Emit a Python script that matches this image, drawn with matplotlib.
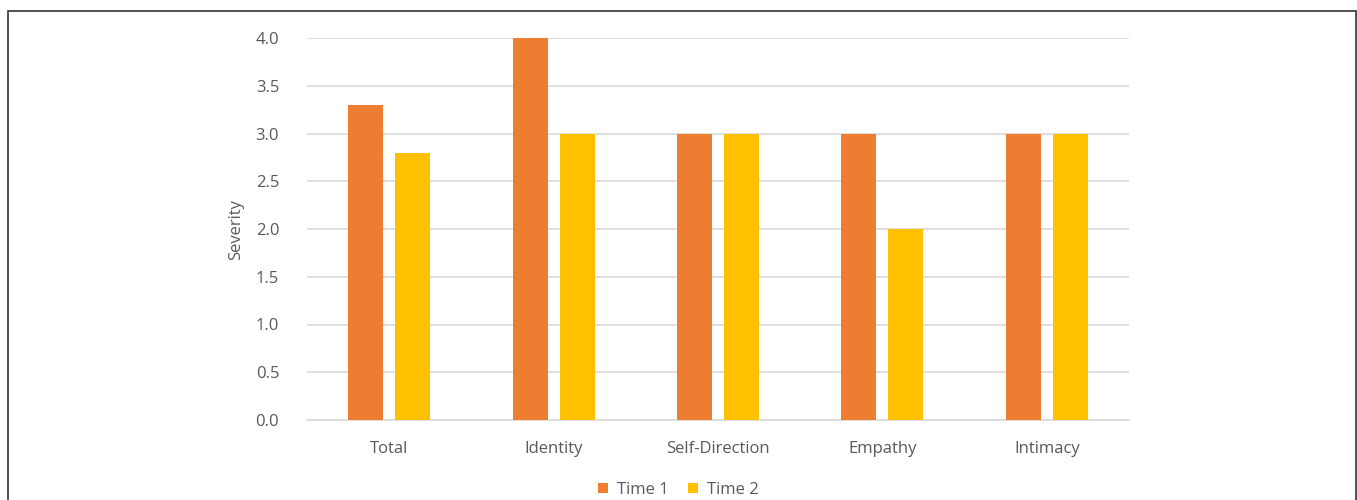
import matplotlib.pyplot as plt
from matplotlib.patches import Rectangle
import numpy as np

categories = ['Total', 'Identity', 'Self-Direction', 'Empathy', 'Intimacy']
time1 = [3.3, 4.0, 3.0, 3.0, 3.0]
time2 = [2.8, 3.0, 3.0, 2.0, 3.0]
series_names = ['Time 1', 'Time 2']

orange = '#ED7D31'
yellow = '#FFC000'
txt = '#595959'

plt.rcParams['font.family'] = ['Open Sans', 'DejaVu Sans']

fig = plt.figure(figsize=(13.57, 5.0), dpi=100)
ax = fig.add_axes([0.2262, 0.16, 0.6058, 0.764])

x = np.arange(len(categories))
w = 0.213
ax.bar(x - 0.143, time1, w, color=orange, label=series_names[0], zorder=3)
ax.bar(x + 0.143, time2, w, color=yellow, label=series_names[1], zorder=3)

ax.set_xlim(-0.5, len(categories) - 0.5)
ax.set_ylim(0, 4.0)
ax.set_yticks(np.arange(0, 4.01, 0.5))
ax.set_yticklabels([f'{v:.1f}' for v in np.arange(0, 4.01, 0.5)])
ax.set_xticks(x)
ax.set_xticklabels(categories)
ax.tick_params(axis='both', length=0, labelsize=12, colors=txt)
ax.tick_params(axis='y', pad=20)
ax.tick_params(axis='x', pad=15)
ax.yaxis.grid(True, color='#D9D9D9', linewidth=1.2, zorder=0)
ax.set_axisbelow(True)
for s in ['top', 'right', 'left']:
    ax.spines[s].set_visible(False)
ax.spines['bottom'].set_color('#D9D9D9')
ax.spines['bottom'].set_linewidth(1.2)
ax.set_ylabel('Severity', fontsize=12, color=txt, labelpad=8)

leg = fig.legend(loc='center', bbox_to_anchor=(0.5, 0.02), ncol=2, frameon=False,
                 fontsize=12, handlelength=0.6, handleheight=0.6,
                 columnspacing=1.2, handletextpad=0.5, borderpad=0.1)
for t in leg.get_texts():
    t.set_color(txt)

# outer frame
fig.patches.append(Rectangle((8 / 1357, -0.05), 1348 / 1357, 1.05 - 11 / 500,
                             transform=fig.transFigure, fill=False,
                             edgecolor='#333333', linewidth=1.2))

fig.savefig('out.png', dpi=100)
